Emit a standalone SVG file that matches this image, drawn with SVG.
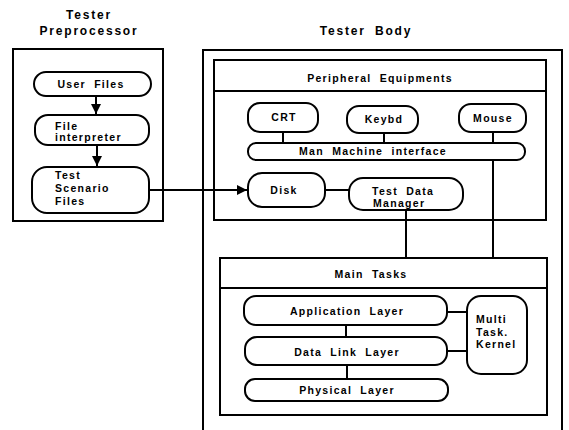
<svg xmlns="http://www.w3.org/2000/svg" width="569" height="430" viewBox="0 0 569 430">
  <defs>
    <marker id="arrow" viewBox="0 0 10 10" refX="10" refY="5" markerWidth="5" markerHeight="5" orient="auto" markerUnits="strokeWidth">
      <path d="M0,0 L10,5 L0,10 Z" fill="#000"/>
    </marker>
    <style>
      .frame { fill: none; stroke: #000; stroke-width: 2; }
      .node { fill: #fff; stroke: #000; stroke-width: 2; }
      .link { fill: none; stroke: #000; stroke-width: 2; }
      text { font-family: "Liberation Sans", Arial, sans-serif; font-weight: bold; font-size: 10.5px; letter-spacing: 1.3px; word-spacing: 4px; fill: #000; }
      .title { font-size: 12px; letter-spacing: 1.8px; word-spacing: 4px; }
      .c { text-anchor: middle; }
    </style>
  </defs>
  <rect width="569" height="430" fill="#fff"/>

  <!-- Section titles -->
  <text class="title c" x="89" y="19">Tester</text>
  <text class="title c" x="89" y="35">Preprocessor</text>
  <text class="title c" x="366" y="35">Tester Body</text>

  <!-- Frames -->
  <g id="preprocessor-frame">
    <rect class="frame" x="13" y="49" width="150" height="172"/>
  </g>
  <g id="body-frame">
    <path class="frame" d="M203,440 V50 H562 V440"/>
  </g>
  <g id="peripheral-frame">
    <rect class="frame" x="214" y="60" width="332" height="160"/>
    <line class="frame" x1="214" y1="91" x2="546" y2="91"/>
    <text class="c" x="380" y="82">Peripheral Equipments</text>
  </g>
  <g id="main-tasks-frame">
    <rect class="frame" x="220" y="258" width="327" height="157"/>
    <line class="frame" x1="220" y1="288" x2="547" y2="288"/>
    <text class="c" x="371" y="278">Main Tasks</text>
  </g>

  <!-- Connectors -->
  <g id="connectors">
    <line class="link" x1="96" y1="96" x2="96" y2="114" marker-end="url(#arrow)"/>
    <line class="link" x1="97" y1="145" x2="97" y2="166" marker-end="url(#arrow)"/>
    <line class="link" x1="149" y1="190" x2="247" y2="190" marker-end="url(#arrow)"/>
    <line class="link" x1="283" y1="132" x2="283" y2="143"/>
    <line class="link" x1="384" y1="133" x2="384" y2="143"/>
    <line class="link" x1="493" y1="132" x2="493" y2="143"/>
    <line class="link" x1="325" y1="190" x2="349" y2="190"/>
    <line class="link" x1="406" y1="210" x2="406" y2="258"/>
    <line class="link" x1="493" y1="160" x2="493" y2="258"/>
    <line class="link" x1="346" y1="325" x2="346" y2="337"/>
    <line class="link" x1="347" y1="365" x2="347" y2="379"/>
    <line class="link" x1="447" y1="312" x2="467" y2="312"/>
    <line class="link" x1="447" y1="351" x2="467" y2="351"/>
  </g>

  <!-- Preprocessor nodes -->
  <g id="user-files">
    <rect class="node" x="34" y="72" width="117" height="24" rx="12"/>
    <text class="c" x="91" y="88">User Files</text>
  </g>
  <g id="file-interpreter">
    <rect class="node" x="35" y="115" width="114" height="30" rx="13"/>
    <text x="55" y="130">File</text>
    <text x="55" y="141">interpreter</text>
  </g>
  <g id="test-scenario-files">
    <rect class="node" x="32" y="167" width="117" height="46" rx="15"/>
    <text x="55" y="179">Test</text>
    <text x="55" y="192">Scenario</text>
    <text x="55" y="205">Files</text>
  </g>

  <!-- Peripheral nodes -->
  <g id="crt">
    <rect class="node" x="248" y="103" width="70" height="29" rx="12"/>
    <text class="c" x="284" y="121">CRT</text>
  </g>
  <g id="keybd">
    <rect class="node" x="347" y="106" width="71" height="27" rx="12"/>
    <text class="c" x="384" y="123">Keybd</text>
  </g>
  <g id="mouse">
    <rect class="node" x="459" y="104" width="67" height="28" rx="12"/>
    <text class="c" x="493" y="122">Mouse</text>
  </g>
  <g id="man-machine-interface">
    <rect class="node" x="248" y="143" width="277" height="17" rx="8"/>
    <text class="c" x="373" y="155">Man Machine interface</text>
  </g>
  <g id="disk">
    <rect class="node" x="248" y="173" width="77" height="34" rx="14"/>
    <text class="c" x="284" y="194">Disk</text>
  </g>
  <g id="test-data-manager">
    <rect class="node" x="349" y="178" width="114" height="32" rx="14"/>
    <text x="372" y="195">Test Data</text>
    <text x="373" y="207">Manager</text>
  </g>

  <!-- Main task nodes -->
  <g id="application-layer">
    <rect class="node" x="244" y="296" width="203" height="29" rx="12"/>
    <text class="c" x="347" y="315">Application Layer</text>
  </g>
  <g id="data-link-layer">
    <rect class="node" x="245" y="337" width="202" height="28" rx="12"/>
    <text class="c" x="347" y="356">Data Link Layer</text>
  </g>
  <g id="physical-layer">
    <rect class="node" x="245" y="379" width="203" height="22" rx="10"/>
    <text class="c" x="347" y="394">Physical Layer</text>
  </g>
  <g id="multi-task-kernel">
    <rect class="node" x="467" y="296" width="60" height="78" rx="14"/>
    <text x="476" y="323">Multi</text>
    <text x="476" y="336">Task.</text>
    <text x="476" y="348">Kernel</text>
  </g>
</svg>
